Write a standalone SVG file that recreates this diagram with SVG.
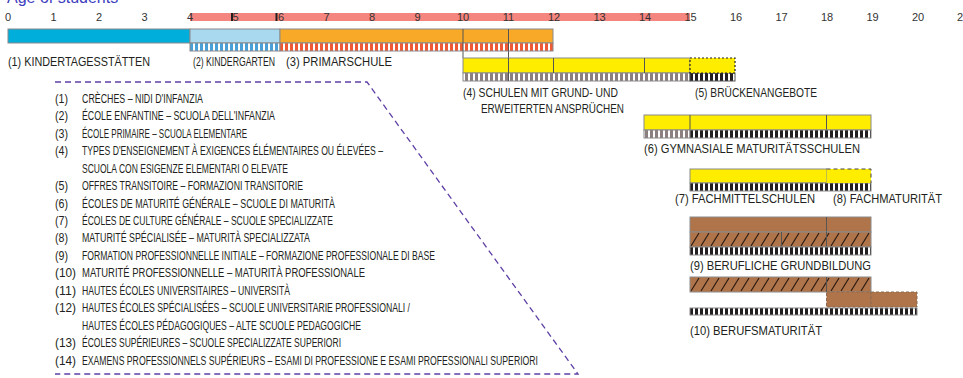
<svg xmlns="http://www.w3.org/2000/svg" width="963" height="378" viewBox="0 0 963 378">
<defs>
<style>
.ax{font-family:"Liberation Sans",Arial,sans-serif;font-size:11px;fill:#333;text-anchor:middle}
.lb{font-family:"Liberation Sans",Arial,sans-serif;font-size:13px;fill:#231f20}
.lg{font-family:"Liberation Sans",Arial,sans-serif;font-size:12px;fill:#231f20}
.bd{stroke:#8a8a8a;stroke-width:1}
.dv{stroke:#555;stroke-width:1}
</style>
<pattern id="sBlue" patternUnits="userSpaceOnUse" x="0" y="0" width="5" height="10"><rect width="5" height="10" fill="#fff"/><rect width="3" height="10" fill="#4a9fd5"/></pattern>
<pattern id="sOrange" patternUnits="userSpaceOnUse" x="0" y="0" width="5" height="10"><rect width="5" height="10" fill="#fff"/><rect width="3" height="10" fill="#ee5a33"/></pattern>
<pattern id="sGray" patternUnits="userSpaceOnUse" x="0" y="0" width="5" height="10"><rect width="5" height="10" fill="#fff"/><rect width="3" height="10" fill="#8b7f7f"/></pattern>
<pattern id="sBlack" patternUnits="userSpaceOnUse" x="0" y="0" width="5" height="10"><rect width="5" height="10" fill="#fff"/><rect width="3" height="10" fill="#231f20"/></pattern>
<pattern id="hatch" patternUnits="userSpaceOnUse" x="690" y="232" width="10" height="15"><rect width="10" height="15" fill="#b0744a"/><line x1="1" y1="14" x2="9" y2="1" stroke="#2a1a10" stroke-width="1.2"/></pattern>
</defs>
<rect width="963" height="378" fill="#fff"/>

<g id="axis">
<text x="7" y="3" style="font-family:'Liberation Sans',Arial,sans-serif;font-size:16px;fill:#4040c0">Age of students</text>
<rect x="190" y="13" width="500" height="8" fill="#f4857f"/>
<rect x="231" y="13" width="2" height="8" fill="#231f20"/>
<rect x="275.5" y="13" width="2" height="8" fill="#231f20"/>
<text class="ax" x="8" y="21">0</text>
<text class="ax" x="53.5" y="21">1</text>
<text class="ax" x="99" y="21">2</text>
<text class="ax" x="144.5" y="21">3</text>
<text class="ax" x="190" y="21">4</text>
<text class="ax" x="235.5" y="21">5</text>
<text class="ax" x="281" y="21">6</text>
<text class="ax" x="326.5" y="21">7</text>
<text class="ax" x="372" y="21">8</text>
<text class="ax" x="417.5" y="21">9</text>
<text class="ax" x="463" y="21">10</text>
<text class="ax" x="508.5" y="21">11</text>
<text class="ax" x="554" y="21">12</text>
<text class="ax" x="599.5" y="21">13</text>
<text class="ax" x="645" y="21">14</text>
<text class="ax" x="690.5" y="21">15</text>
<text class="ax" x="736" y="21">16</text>
<text class="ax" x="781.5" y="21">17</text>
<text class="ax" x="827" y="21">18</text>
<text class="ax" x="872.5" y="21">19</text>
<text class="ax" x="918" y="21">20</text>
<text class="ax" x="957" y="21" style="text-anchor:start">2</text>
</g>

<g id="connectors">
<line class="dv" x1="463" y1="51" x2="463" y2="58"/>
<line class="dv" x1="508.5" y1="51" x2="508.5" y2="58"/>
</g>

<g id="n1-kindertagesstaetten">
<rect class="bd" x="8" y="29" width="182" height="14" fill="#00aedb"/>
<text class="lb" x="8" y="66" textLength="142" lengthAdjust="spacingAndGlyphs">(1) KINDERTAGESSTÄTTEN</text>
</g>

<g id="n2-kindergarten">
<rect class="bd" x="190" y="29" width="90" height="14" fill="#a9d9ef"/>
<rect class="bd" x="190" y="43" width="90" height="8" fill="url(#sBlue)"/>
<text class="lb" x="193" y="66" textLength="82" lengthAdjust="spacingAndGlyphs">(2) KINDERGARTEN</text>
</g>

<g id="n3-primarschule">
<rect class="bd" x="280" y="29" width="273" height="14" fill="#f8a927"/>
<rect class="bd" x="280" y="43" width="273" height="8" fill="url(#sOrange)"/>
<line class="dv" x1="463" y1="29" x2="463" y2="51"/>
<line class="dv" x1="508.5" y1="29" x2="508.5" y2="51"/>
<text class="lb" x="286" y="66" textLength="106" lengthAdjust="spacingAndGlyphs">(3) PRIMARSCHULE</text>
</g>

<g id="n4-schulen">
<rect class="bd" x="463" y="58" width="227" height="15" fill="#ffed00"/>
<rect class="bd" x="463" y="73" width="227" height="8" fill="url(#sGray)"/>
<line class="dv" x1="508.5" y1="58" x2="508.5" y2="81"/>
<line class="dv" x1="553.5" y1="58" x2="553.5" y2="73"/>
<line class="dv" x1="644.5" y1="58" x2="644.5" y2="73"/>
<text class="lb" x="463" y="97" textLength="155" lengthAdjust="spacingAndGlyphs">(4) SCHULEN MIT GRUND- UND</text>
<text class="lb" x="481" y="113" textLength="143" lengthAdjust="spacingAndGlyphs">ERWEITERTEN ANSPRÜCHEN</text>
</g>

<g id="n5-brueckenangebote">
<rect x="690" y="73" width="45" height="8" fill="url(#sBlack)" stroke="#555" stroke-width="1"/>
<rect x="690" y="58" width="45" height="15" fill="#ffed00" stroke="#231f20" stroke-width="1.2" stroke-dasharray="2,2"/>
<text class="lb" x="695" y="97" textLength="122" lengthAdjust="spacingAndGlyphs">(5) BRÜCKENANGEBOTE</text>
</g>

<g id="n6-gymnasiale">
<rect class="bd" x="644" y="115" width="227" height="15" fill="#ffed00"/>
<line class="dv" x1="690" y1="115" x2="690" y2="130"/>
<line class="dv" x1="826.5" y1="115" x2="826.5" y2="130"/>
<rect class="bd" x="644" y="130" width="46" height="8" fill="url(#sGray)"/>
<rect class="bd" x="690" y="130" width="181" height="8" fill="url(#sBlack)"/>
<text class="lb" x="644" y="153" textLength="216" lengthAdjust="spacingAndGlyphs">(6) GYMNASIALE MATURITÄTSSCHULEN</text>
</g>

<g id="n7-fachmittelschulen">
<rect class="bd" x="690" y="169" width="136.5" height="14" fill="#ffed00"/>
<rect class="bd" x="690" y="183" width="181" height="8" fill="url(#sBlack)"/>
<text class="lb" x="675" y="203" textLength="140" lengthAdjust="spacingAndGlyphs">(7) FACHMITTELSCHULEN</text>
</g>

<g id="n8-fachmaturitaet">
<rect x="826.5" y="169" width="44.5" height="14" fill="#ffed00"/>
<path d="M826.5,169 H871 V183" fill="none" stroke="#444" stroke-width="1" stroke-dasharray="4,3"/>
<text class="lb" x="833" y="203" textLength="109" lengthAdjust="spacingAndGlyphs">(8) FACHMATURITÄT</text>
</g>

<g id="n9-berufliche-grundbildung">
<rect class="bd" x="690" y="217" width="181" height="15" fill="#b0744a"/>
<line class="dv" x1="826.5" y1="217" x2="826.5" y2="232"/>
<rect class="bd" x="690" y="232" width="181" height="15" fill="url(#hatch)"/>
<line class="dv" x1="781.5" y1="232" x2="781.5" y2="247"/>
<line class="dv" x1="826.5" y1="232" x2="826.5" y2="247"/>
<rect class="bd" x="690" y="247" width="181" height="8" fill="url(#sBlack)"/>
<text class="lb" x="690" y="270" textLength="181" lengthAdjust="spacingAndGlyphs">(9) BERUFLICHE GRUNDBILDUNG</text>
</g>

<g id="n10-berufsmaturitaet">
<rect class="bd" x="690" y="277" width="181" height="15" fill="url(#hatch)"/>
<line class="dv" x1="826.5" y1="277" x2="826.5" y2="292"/>
<rect x="826.5" y="292" width="44.5" height="15" fill="#b0744a" stroke="#8a6a50" stroke-width="1" stroke-dasharray="3,2"/>
<rect x="871" y="292" width="46" height="15" fill="#b0744a" stroke="#8a6a50" stroke-width="1" stroke-dasharray="3,2"/>
<rect class="bd" x="690" y="308" width="227" height="7" fill="url(#sBlack)"/>
<text class="lb" x="690" y="335" textLength="132" lengthAdjust="spacingAndGlyphs">(10) BERUFSMATURITÄT</text>
</g>

<g id="legend">
<path d="M55,82 H367 L578,374 H55" fill="none" stroke="#5e3fa5" stroke-width="1.3" stroke-dasharray="6,4"/>
<text class="lg" x="55" y="102.8" textLength="13" lengthAdjust="spacingAndGlyphs">(1)</text>
<text class="lg" x="82" y="102.8" textLength="121" lengthAdjust="spacingAndGlyphs">CRÈCHES – NIDI D'INFANZIA</text>
<text class="lg" x="55" y="120.2" textLength="13" lengthAdjust="spacingAndGlyphs">(2)</text>
<text class="lg" x="82" y="120.2" textLength="193" lengthAdjust="spacingAndGlyphs">ÉCOLE ENFANTINE – SCUOLA DELL'INFANZIA</text>
<text class="lg" x="55" y="137.7" textLength="13" lengthAdjust="spacingAndGlyphs">(3)</text>
<text class="lg" x="82" y="137.7" textLength="165" lengthAdjust="spacingAndGlyphs">ÉCOLE PRIMAIRE – SCUOLA ELEMENTARE</text>
<text class="lg" x="55" y="155.1" textLength="13" lengthAdjust="spacingAndGlyphs">(4)</text>
<text class="lg" x="82" y="155.1" textLength="301" lengthAdjust="spacingAndGlyphs">TYPES D'ENSEIGNEMENT À EXIGENCES ÉLÉMENTAIRES OU ÉLEVÉES –</text>
<text class="lg" x="82" y="172.6" textLength="206" lengthAdjust="spacingAndGlyphs">SCUOLA CON ESIGENZE ELEMENTARI O ELEVATE</text>
<text class="lg" x="55" y="190" textLength="13" lengthAdjust="spacingAndGlyphs">(5)</text>
<text class="lg" x="82" y="190" textLength="221" lengthAdjust="spacingAndGlyphs">OFFRES TRANSITOIRE – FORMAZIONI TRANSITORIE</text>
<text class="lg" x="55" y="207.5" textLength="13" lengthAdjust="spacingAndGlyphs">(6)</text>
<text class="lg" x="82" y="207.5" textLength="253" lengthAdjust="spacingAndGlyphs">ÉCOLES DE MATURITÉ GÉNÉRALE – SCUOLE DI MATURITÀ</text>
<text class="lg" x="55" y="224.9" textLength="13" lengthAdjust="spacingAndGlyphs">(7)</text>
<text class="lg" x="82" y="224.9" textLength="251" lengthAdjust="spacingAndGlyphs">ÉCOLES DE CULTURE GÉNÉRALE – SCUOLE SPECIALIZZATE</text>
<text class="lg" x="55" y="242.4" textLength="13" lengthAdjust="spacingAndGlyphs">(8)</text>
<text class="lg" x="82" y="242.4" textLength="228" lengthAdjust="spacingAndGlyphs">MATURITÉ SPÉCIALISÉE – MATURITÀ SPECIALIZZATA</text>
<text class="lg" x="55" y="259.8" textLength="13" lengthAdjust="spacingAndGlyphs">(9)</text>
<text class="lg" x="82" y="259.8" textLength="353" lengthAdjust="spacingAndGlyphs">FORMATION PROFESSIONNELLE INITIALE – FORMAZIONE PROFESSIONALE DI BASE</text>
<text class="lg" x="55" y="277.3" textLength="21" lengthAdjust="spacingAndGlyphs">(10)</text>
<text class="lg" x="82" y="277.3" textLength="283" lengthAdjust="spacingAndGlyphs">MATURITÉ PROFESSIONNELLE –  MATURITÀ PROFESSIONALE</text>
<text class="lg" x="55" y="294.7" textLength="21" lengthAdjust="spacingAndGlyphs">(11)</text>
<text class="lg" x="82" y="294.7" textLength="208" lengthAdjust="spacingAndGlyphs">HAUTES ÉCOLES UNIVERSITAIRES – UNIVERSITÀ</text>
<text class="lg" x="55" y="312.2" textLength="21" lengthAdjust="spacingAndGlyphs">(12)</text>
<text class="lg" x="82" y="312.2" textLength="328" lengthAdjust="spacingAndGlyphs">HAUTES ÉCOLES SPÉCIALISÉES – SCUOLE UNIVERSITARIE PROFESSIONALI /</text>
<text class="lg" x="82" y="329.6" textLength="279" lengthAdjust="spacingAndGlyphs">HAUTES ÉCOLES PÉDAGOGIQUES –  ALTE SCUOLE PEDAGOGICHE</text>
<text class="lg" x="55" y="347.1" textLength="21" lengthAdjust="spacingAndGlyphs">(13)</text>
<text class="lg" x="82" y="347.1" textLength="259" lengthAdjust="spacingAndGlyphs">ÉCOLES SUPÉRIEURES – SCUOLE SPECIALIZZATE SUPERIORI</text>
<text class="lg" x="55" y="364.5" textLength="21" lengthAdjust="spacingAndGlyphs">(14)</text>
<text class="lg" x="82" y="364.5" textLength="456" lengthAdjust="spacingAndGlyphs">EXAMENS PROFESSIONNELS SUPÉRIEURS – ESAMI DI PROFESSIONE E ESAMI PROFESSIONALI SUPERIORI</text>
</g>
</svg>
